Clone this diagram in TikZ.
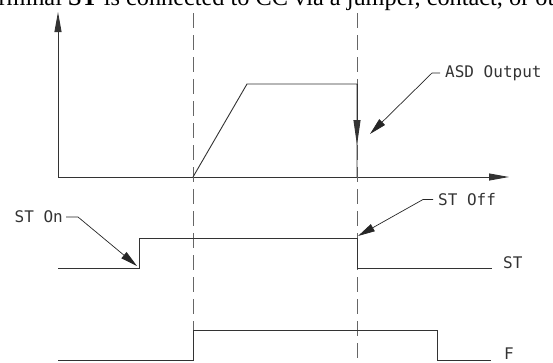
\documentclass[tikz,border=0pt]{standalone}
\usepackage{fontspec}
\setmainfont{Liberation Serif}
\newfontfamily\cadfont{DejaVu Sans Mono}
\usetikzlibrary{arrows.meta}
\begin{document}
\begin{tikzpicture}[x=1pt,y=-1pt,
  sig/.style={line width=0.9pt,draw=black!80},
  guide/.style={line width=0.9pt,draw=black!60,dash pattern=on 15pt off 7pt},
  axis/.style={line width=0.9pt,draw=black!80,-{Stealth[length=20pt,width=7pt,inset=0pt]}},
  lead/.style={line width=0.7pt,draw=black!85,-{Stealth[length=17pt,width=8pt,inset=0pt]}},
  lab/.style={font=\cadfont\fontsize{16}{16}\selectfont,text=black!80,inner sep=0pt}]
\useasboundingbox (0,0) rectangle (553,362);
% clipped caption line at top
\node[anchor=base west,inner sep=0pt,font=\fontsize{24.3}{24.3}\selectfont] (cap) at (-25.6,5) {Terminal \textbf{ST} is connected to CC via a jumper, contact, or other};
% axes
\coordinate (o) at (58,177);
\coordinate (ytop) at (58,12);
\coordinate (xend) at (509,177);
\draw[axis] (o) -- (ytop);
\draw[axis] (o) -- (xend);
% dashed guides
\coordinate (g1t) at (193,13); \coordinate (g1b) at (193,362);
\coordinate (g2t) at (357,13); \coordinate (g2b) at (357,362);
\draw[guide] (g1t) -- (g1b);
\draw[guide] (g2t) -- (g2b);
% ASD output
\coordinate (r0) at (193,177);
\coordinate (r1) at (247,84);
\coordinate (r2) at (357,84);
\coordinate (r3) at (357,177);
\coordinate (rm) at (357,145);
\draw[sig] (r0) -- (r1) -- (r2) -- (r3);
\draw[sig,-{Stealth[length=25pt,width=7pt,inset=0pt]}] (r2) -- (rm);
\node[lab,anchor=west] (asd) at (445,73) {ASD Output};
\coordinate (asdk) at (432,73);
\coordinate (asdt) at (370,134);
\draw[lead] ([xshift=-5pt]asd.west) -- (asdk) -- (asdt);
% ST signal
\coordinate (s0) at (58,268);
\coordinate (s1) at (139,268);
\coordinate (s2) at (139,238);
\coordinate (s3) at (357,238);
\coordinate (s4) at (357,268);
\coordinate (s5) at (492,268);
\draw[sig] (s0) -- (s1) -- (s2) -- (s3) -- (s4) -- (s5);
\node[lab,anchor=base west] (stl) at (503,268) {ST};
\node[lab,anchor=east] (ston) at (63,217) {ST On};
\coordinate (stonk) at (78,217);
\coordinate (stont) at (137,266);
\draw[lead] ([xshift=3pt]ston.east) -- (stonk) -- (stont);
\node[lab,anchor=west] (stoff) at (438,199.5) {ST Off};
\coordinate (stoffk) at (423,199.5);
\coordinate (stofft) at (358,236);
\draw[lead] ([xshift=-5pt]stoff.west) -- (stoffk) -- (stofft);
% F signal
\coordinate (f0) at (58,360);
\coordinate (f1) at (193,360);
\coordinate (f2) at (193,330);
\coordinate (f3) at (437,330);
\coordinate (f4) at (437,360);
\coordinate (f5) at (491,360);
\draw[sig] (f0) -- (f1) -- (f2) -- (f3) -- (f4) -- (f5);
\node[lab,anchor=base west] (fl) at (504,359) {F};
\end{tikzpicture}
\end{document}
